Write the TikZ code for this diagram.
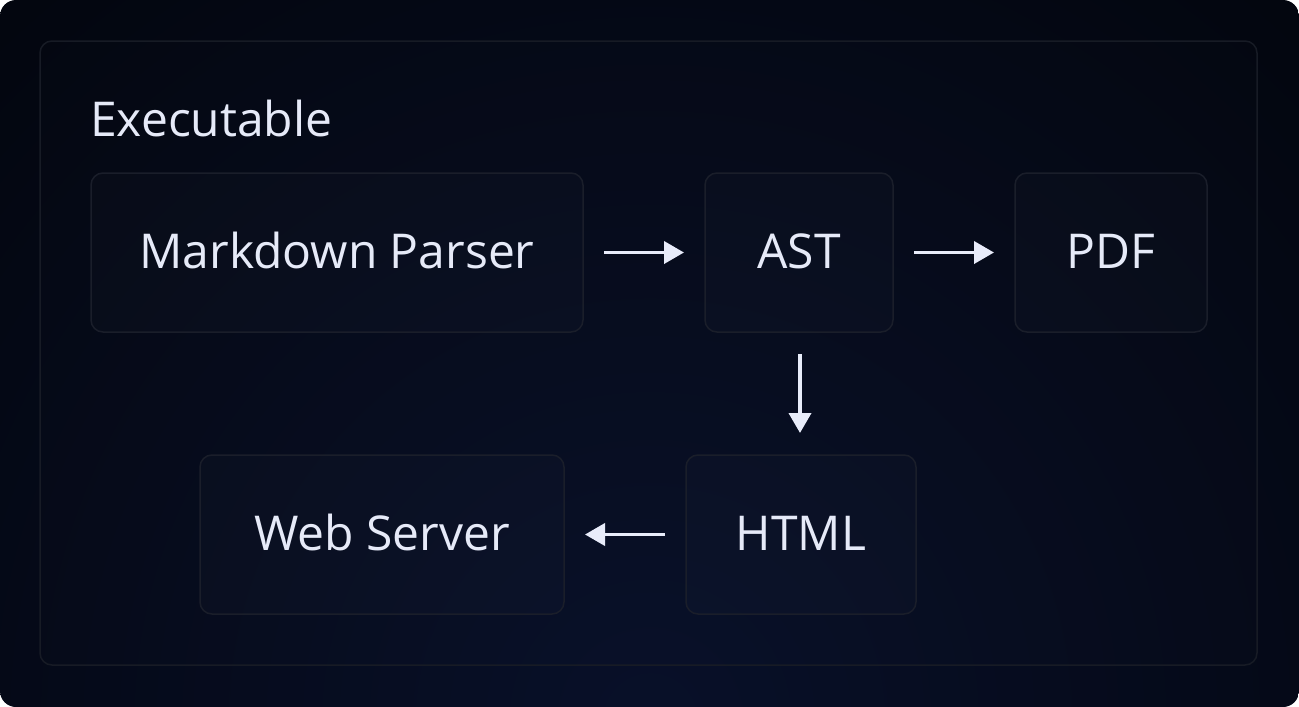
\documentclass[tikz,border=0pt]{standalone}
\usepackage{fontspec}
\setmainfont{Open Sans}
\usetikzlibrary{arrows.meta}
\definecolor{bgin}{HTML}{081029}
\definecolor{bgout}{HTML}{000000}
\definecolor{boxline}{HTML}{1A1E2A}
\definecolor{frameline}{HTML}{171B25}
\definecolor{txt}{HTML}{E6EAF8}
\definecolor{arr}{HTML}{E8ECFA}
\begin{document}
\begin{tikzpicture}[x=1pt,y=-1pt,
  box/.style={draw=boxline, line width=1.5pt, rounded corners=12pt, fill=white, fill opacity=0.016, outer sep=0pt, inner sep=0pt},
  frame/.style={draw=frameline, line width=1.5pt, rounded corners=12pt, fill=white, fill opacity=0.008, outer sep=0pt, inner sep=0pt},
  lbl/.style={text=txt, font=\fontsize{48}{56}\selectfont, inner sep=0pt, anchor=base},
  flow/.style={draw=arr, line width=3.8pt, -{Triangle[length=20pt,width=22pt]}}]
\useasboundingbox (0,0) rectangle (1299,707);
\fill[white] (0,0) rectangle (1299,707);
\begin{scope}
  \clip[rounded corners=16pt] (0,0) rectangle (1299,707);
  \shade[inner color=bgin, outer color=bgout] (650,720) circle (1500);
\end{scope}
% container
\node[frame, minimum width=1217pt, minimum height=624pt] (exec) at (648.5,353) {};
\node[lbl, anchor=base west] (title) at (90,136) {Executable};
% boxes
\node[box, minimum width=492pt, minimum height=159pt] (mp) at (337,252.5) {};
\node[box, minimum width=188pt, minimum height=159pt] (ast) at (799,252.5) {};
\node[box, minimum width=192pt, minimum height=159pt] (pdf) at (1111,252.5) {};
\node[box, minimum width=230pt, minimum height=159pt] (html) at (801,534.5) {};
\node[box, minimum width=364pt, minimum height=159pt] (web) at (382,534.5) {};
% labels
\node[lbl] (mpt) at (337,268) {Markdown Parser};
\node[lbl] (astt) at (799,268) {AST};
\node[lbl] (pdft) at (1111,268) {PDF};
\node[lbl] (htmlt) at (801,550) {HTML};
\node[lbl] (webt) at (382,550) {Web Server};
% connectors
\draw[flow, shorten <=21pt, shorten >=21pt] (mp.east) -- (ast.west);
\draw[flow, shorten <=21pt, shorten >=21pt] (ast.east) -- (pdf.west);
\draw[flow, shorten <=22pt, shorten >=22pt] ([xshift=1pt]ast.south) -- ([xshift=1pt]ast.south |- html.north);
\draw[flow, shorten <=21pt, shorten >=21pt] (html.west) -- (web.east);
\end{tikzpicture}
\end{document}
